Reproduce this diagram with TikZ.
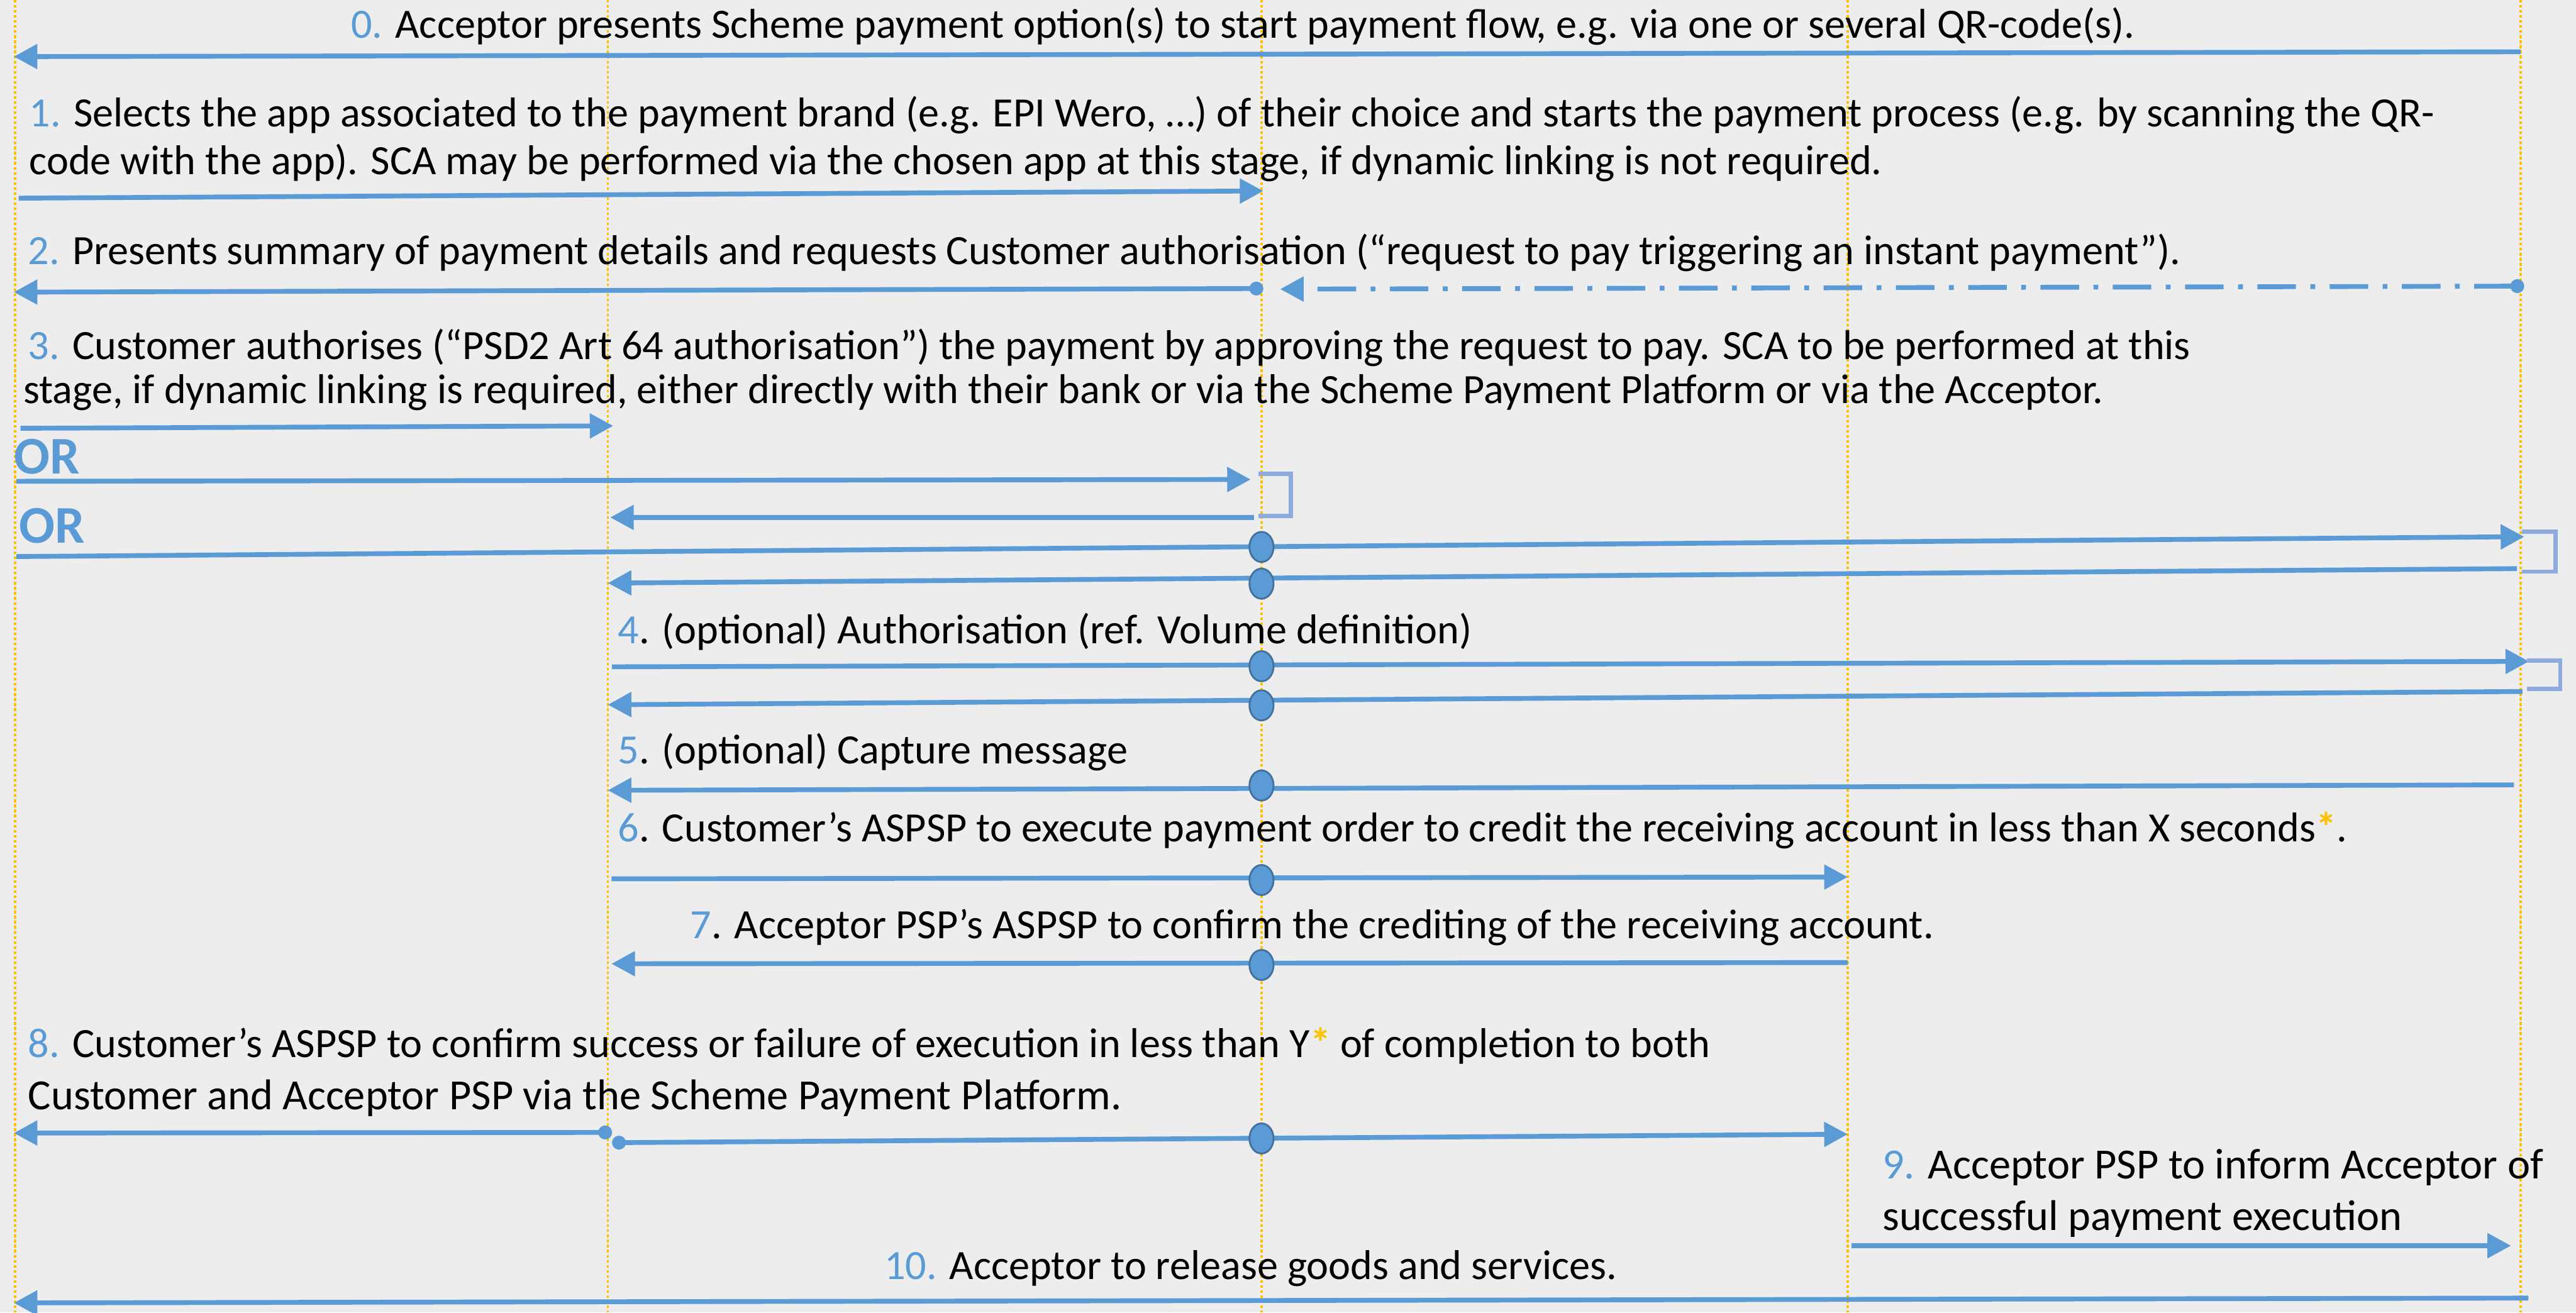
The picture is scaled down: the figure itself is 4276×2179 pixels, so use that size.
\documentclass[tikz,border=0pt]{standalone}
\usepackage{fontspec}
\setmainfont{Carlito}
\usetikzlibrary{arrows.meta,shapes.geometric}

\definecolor{bg}{HTML}{EDEDED}
\definecolor{flow}{HTML}{5B9BD5}
\definecolor{ringedge}{HTML}{41719C}
\definecolor{loopc}{HTML}{8FAADC}
\definecolor{lifec}{HTML}{FFC000}

\newcommand{\stepno}[1]{\textcolor{flow}{#1}}
\newcommand{\goldstar}{\textcolor{lifec}{\textbf{*}}}

\begin{document}
\begin{tikzpicture}[x=0.25pt,y=-0.25pt,
  lifeline/.style={draw=lifec, line width=1pt, dash pattern=on 1.1pt off 1pt},
  msg/.style={draw=flow, line width=2pt, -{Triangle[length=9.75pt,width=10pt]}},
  dotmsg/.style={draw=flow, line width=2pt, {Circle[length=5.75pt]}-{Triangle[length=9.75pt,width=10pt]}},
  dashdot/.style={dash pattern=on 16pt off 6pt on 2pt off 6pt},
  ring/.style={ellipse, fill=flow, draw=ringedge, line width=0.75pt,
    minimum width=10pt, minimum height=12.5pt, inner sep=0pt},
  loopback/.style={draw=loopc, line width=1.75pt},
  lbl/.style={anchor=base west, inner sep=0pt, font=\fontsize{17.3}{20.8}\selectfont},
  biglbl/.style={anchor=base west, inner sep=0pt, font=\fontsize{17.85}{21.4}\selectfont},
  orlbl/.style={anchor=base west, inner sep=0pt, text=flow, font=\fontsize{22}{26}\selectfont\bfseries}]

% canvas
\fill[bg] (0,0) rectangle (4276,2179);
\useasboundingbox (0,0) rectangle (4276,2179);

% lifelines
\foreach \n/\x in {l1/25, l2/1009, l3/2094, l4/3067, l5/4184}{
  \coordinate (\n top) at (\x,0);
  \coordinate (\n bot) at (\x,2179);
  \draw[lifeline] (\n top) -- (\n bot);
}

% step texts
\node[lbl] (t0)  at (582,63)   {\stepno{0.} Acceptor presents Scheme payment option(s) to start payment flow, e.g. via one or several QR-code(s).};
\node[lbl] (t1a) at (48,210)   {\stepno{1.} Selects the app associated to the payment brand (e.g. EPI Wero, …) of their choice and starts the payment process (e.g. by scanning the QR-};
\node[lbl] (t1b) at (48,290)   {code with the app). SCA may be performed via the chosen app at this stage, if dynamic linking is not required.};
\node[lbl] (t2)  at (46,439)   {\stepno{2.} Presents summary of payment details and requests Customer authorisation (“request to pay triggering an instant payment”).};
\node[lbl] (t3a) at (46,597)   {\stepno{3.} Customer authorises (“PSD2 Art 64 authorisation”) the payment by approving the request to pay. SCA to be performed at this};
\node[lbl] (t3b) at (38,670)   {stage, if dynamic linking is required, either directly with their bank or via the Scheme Payment Platform or via the Acceptor.};
\node[orlbl] (or1) at (23,787) {OR};
\node[orlbl] (or2) at (31,901) {OR};
\node[lbl] (t4)  at (1025,1068) {\stepno{4}. (optional) Authorisation (ref. Volume definition)};
\node[lbl] (t5)  at (1025,1268) {\stepno{5}. (optional) Capture message};
\node[lbl] (t6)  at (1025,1397) {\stepno{6}. Customer’s ASPSP to execute payment order to credit the receiving account in less than X seconds\goldstar.};
\node[lbl] (t7)  at (1145,1558) {\stepno{7}. Acceptor PSP’s ASPSP to confirm the crediting of the receiving account.};
\node[lbl] (t8a) at (46,1755)  {\stepno{8.} Customer’s ASPSP to confirm success or failure of execution in less than Y\goldstar{} of completion to both};
\node[biglbl] (t8b) at (46,1842)  {Customer and Acceptor PSP via the Scheme Payment Platform.};
\node[biglbl] (t9a) at (3124,1957) {\stepno{9.} Acceptor PSP to inform Acceptor of};
\node[biglbl] (t9b) at (3124,2042) {successful payment execution};
\node[lbl] (t10) at (1467,2124) {\stepno{10.} Acceptor to release goods and services.};

% message end points
\coordinate (a0s) at (4184,86);   \coordinate (a0e) at (23,94);
\coordinate (a1s) at (31,329);    \coordinate (a1e) at (2097,317);
\coordinate (a2s) at (2097,479);  \coordinate (a2e) at (23,485);
\coordinate (b2s) at (4190,475);  \coordinate (b2e) at (2125,480);
\coordinate (a3s) at (34,711);    \coordinate (a3e) at (1018,707);
\coordinate (c3s) at (27,799);    \coordinate (c3e) at (2076,796);
\coordinate (d3s) at (2082,859);  \coordinate (d3e) at (1013,859);
\coordinate (e3s) at (27,924);    \coordinate (e3e) at (4190,891);
\coordinate (f3s) at (4178,944);  \coordinate (f3e) at (1009,968);
\coordinate (a4s) at (1016,1107); \coordinate (a4e) at (4198,1098);
\coordinate (b4s) at (4187,1148); \coordinate (b4e) at (1009,1170);
\coordinate (a5s) at (4173,1303); \coordinate (a5e) at (1009,1312);
\coordinate (a6s) at (1015,1459); \coordinate (a6e) at (3067,1456);
\coordinate (a7s) at (3067,1598); \coordinate (a7e) at (1015,1600);
\coordinate (a8s) at (1016,1880); \coordinate (a8e) at (23,1881);
\coordinate (b8s) at (1016,1897); \coordinate (b8e) at (3067,1883);
\coordinate (a9s) at (3073,2068); \coordinate (a9e) at (4168,2068);
\coordinate (a10s) at (4197,2155); \coordinate (a10e) at (23,2163);

% messages
\draw[msg] (a0s) -- (a0e);
\draw[msg] (a1s) -- (a1e);
\draw[dotmsg] (a2s) -- (a2e);
\draw[dotmsg, dashdot] (b2s) -- (b2e);
\draw[msg] (a3s) -- (a3e);
\draw[msg] (c3s) -- (c3e);
\draw[msg] (d3s) -- (d3e);
\draw[msg] (e3s) -- (e3e);
\draw[msg] (f3s) -- (f3e);
\draw[msg] (a4s) -- (a4e);
\draw[msg] (b4s) -- (b4e);
\draw[msg] (a5s) -- (a5e);
\draw[msg] (a6s) -- (a6e);
\draw[msg] (a7s) -- (a7e);
\draw[dotmsg] (a8s) -- (a8e);
\draw[dotmsg] (b8s) -- (b8e);
\draw[msg] (a9s) -- (a9e);
\draw[msg] (a10s) -- (a10e);

% loop-back brackets
\coordinate (k1a) at (2089,786.5); \coordinate (k1b) at (2142.5,786.5);
\coordinate (k1c) at (2142.5,856.5); \coordinate (k1d) at (2089,856.5);
\draw[loopback] (k1a) -- (k1b) -- (k1c) -- (k1d);
\coordinate (k2a) at (4186,883); \coordinate (k2b) at (4242,883);
\coordinate (k2c) at (4242,949); \coordinate (k2d) at (4186,949);
\draw[loopback] (k2a) -- (k2b) -- (k2c) -- (k2d);
\coordinate (k3a) at (4195,1097); \coordinate (k3b) at (4250,1097);
\coordinate (k3c) at (4250,1144); \coordinate (k3d) at (4195,1144);
\draw[loopback] (k3a) -- (k3b) -- (k3c) -- (k3d);

% relay points on the platform lifeline
\node[ring] (r1) at (2094,908) {};
\node[ring] (r2) at (2094,969) {};
\node[ring] (r3) at (2094,1106) {};
\node[ring] (r4) at (2094,1171) {};
\node[ring] (r5) at (2094,1304) {};
\node[ring] (r6) at (2094,1461) {};
\node[ring] (r7) at (2094,1602) {};
\node[ring] (r8) at (2094,1890) {};

\end{tikzpicture}
\end{document}
